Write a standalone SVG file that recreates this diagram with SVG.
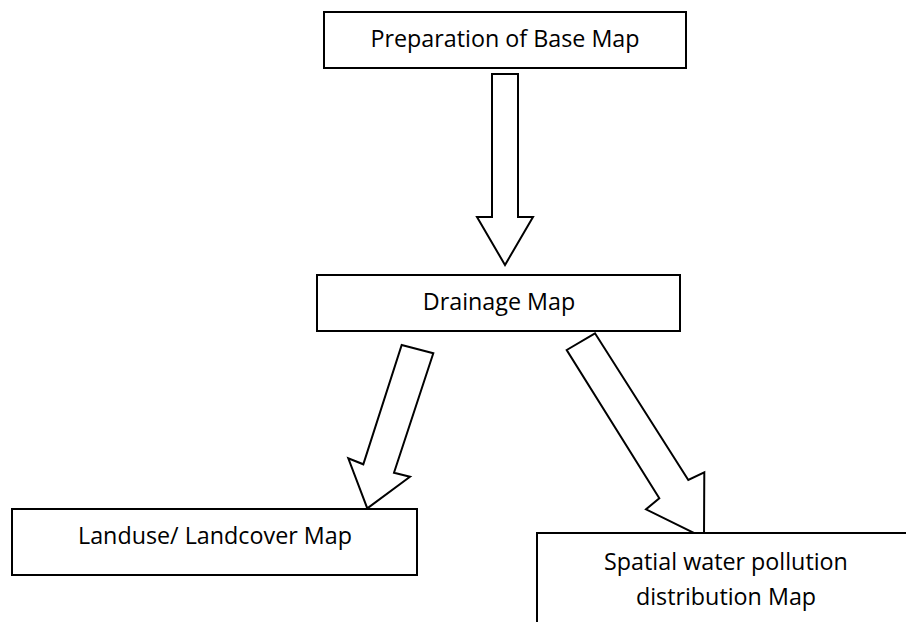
<svg xmlns="http://www.w3.org/2000/svg" width="906" height="622" viewBox="0 0 906 622">
<style>
.box{fill:#fff;stroke:#000;stroke-width:2}
.arr{fill:#fff;stroke:#000;stroke-width:2;stroke-linejoin:miter}
.t{font-family:"Open Sans","Noto Sans","Liberation Sans",sans-serif;font-size:23.3px;fill:#000;text-anchor:middle}
</style>
<rect width="906" height="622" fill="#fff"/>
<g id="connectors">
<polygon class="arr" points="492,74 518,74 518,217 533,217 505,265 477,217 492,217"/>
<polygon class="arr" points="401.7,345 433.3,353.3 394,472.7 410,476.7 367.3,508.3 348.3,458.3 363.3,464.3"/>
<polygon class="arr" points="566.7,350 595,333.3 688.3,480 704.3,472.3 704,538 646,509.3 659.3,498.3"/>
</g>
<g id="n1"><rect class="box" x="324" y="12" width="362" height="56"/><text class="t" x="505" y="47">Preparation of Base Map</text></g>
<g id="n2"><rect class="box" x="317" y="275" width="363" height="56"/><text class="t" x="499" y="310">Drainage Map</text></g>
<g id="n3"><rect class="box" x="12" y="509" width="405" height="66"/><text class="t" x="215" y="544">Landuse/ Landcover Map</text></g>
<g id="n4"><rect class="box" x="537" y="533" width="400" height="110"/><text class="t" x="726" y="570">Spatial water pollution</text><text class="t" x="726" y="605">distribution Map</text></g>
</svg>
